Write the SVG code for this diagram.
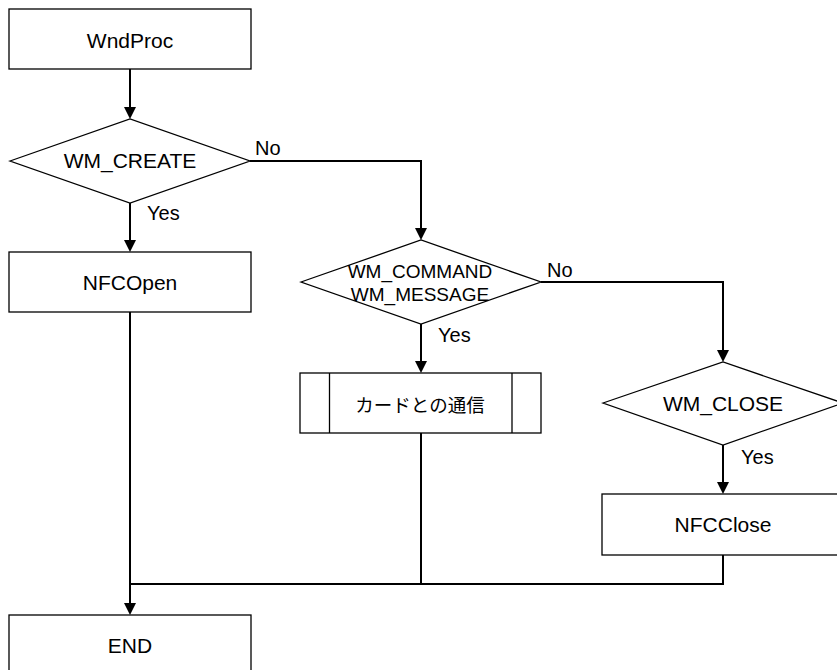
<svg xmlns="http://www.w3.org/2000/svg" width="837" height="670" viewBox="0 0 837 670">
<style>
.shape{fill:#fff;stroke:#000;stroke-width:1.3}
.conn{fill:none;stroke:#000;stroke-width:2}
.t{font-family:"Liberation Sans",Arial,sans-serif;font-size:21px;fill:#000;text-anchor:middle}
.t2{font-family:"Liberation Sans",Arial,sans-serif;font-size:19px;fill:#000;text-anchor:middle}
.lbl{font-family:"Liberation Sans",Arial,sans-serif;font-size:20px;fill:#000}
.jp{font-family:"Liberation Sans","Noto Sans CJK JP",sans-serif;font-size:18.5px;fill:#000;text-anchor:middle}
</style>
<defs>
<marker id="arr" viewBox="0 0 12 12" refX="6" refY="6" markerWidth="12" markerHeight="12" markerUnits="userSpaceOnUse" orient="auto">
<path d="M0,0 L12,6 L0,12 z" fill="#000"/>
</marker>
</defs>
<rect width="837" height="670" fill="#fff"/>
<g id="connectors">
<path class="conn" d="M130,69 V113" marker-end="url(#arr)"/>
<path class="conn" d="M130,203 V246" marker-end="url(#arr)"/>
<path class="conn" d="M250,161 H421 V234" marker-end="url(#arr)"/>
<path class="conn" d="M421,324 V367" marker-end="url(#arr)"/>
<path class="conn" d="M541,282 H723 V356" marker-end="url(#arr)"/>
<path class="conn" d="M723,445 V488" marker-end="url(#arr)"/>
<path class="conn" d="M130,312 V609" marker-end="url(#arr)"/>
<path class="conn" d="M421,433 V584 H130"/>
<path class="conn" d="M723,555 V584 H421"/>
</g>
<g id="wndproc">
<rect class="shape" x="9" y="9" width="242" height="60"/>
<text class="t" x="130" y="48">WndProc</text>
</g>
<g id="wm_create">
<polygon class="shape" points="10,161 130,119 250,161 130,203"/>
<text class="t" x="130" y="168">WM_CREATE</text>
</g>
<g id="nfcopen">
<rect class="shape" x="9" y="252" width="242" height="60"/>
<text class="t" x="130" y="290">NFCOpen</text>
</g>
<g id="wm_command">
<polygon class="shape" points="301,282 421,240 541,282 421,324"/>
<text class="t2" x="420" y="278">WM_COMMAND</text>
<text class="t2" x="420" y="301">WM_MESSAGE</text>
</g>
<g id="card">
<rect class="shape" x="300" y="373" width="241" height="60"/>
<line class="shape" x1="329.5" y1="373" x2="329.5" y2="433"/>
<line class="shape" x1="512" y1="373" x2="512" y2="433"/>
<text class="jp" x="420" y="412">カードとの通信</text>
</g>
<g id="wm_close">
<polygon class="shape" points="603,403 723,362 843,403 723,445"/>
<text class="t" x="723" y="411">WM_CLOSE</text>
</g>
<g id="nfcclose">
<rect class="shape" x="602" y="494" width="242" height="61"/>
<text class="t" x="723" y="532">NFCClose</text>
</g>
<g id="end">
<rect class="shape" x="9" y="615" width="242" height="60"/>
<text class="t" x="130" y="653">END</text>
</g>
<g id="labels">
<text class="lbl" x="255" y="155">No</text>
<text class="lbl" x="147" y="220">Yes</text>
<text class="lbl" x="547" y="277">No</text>
<text class="lbl" x="438" y="342">Yes</text>
<text class="lbl" x="741" y="464">Yes</text>
</g>
</svg>
